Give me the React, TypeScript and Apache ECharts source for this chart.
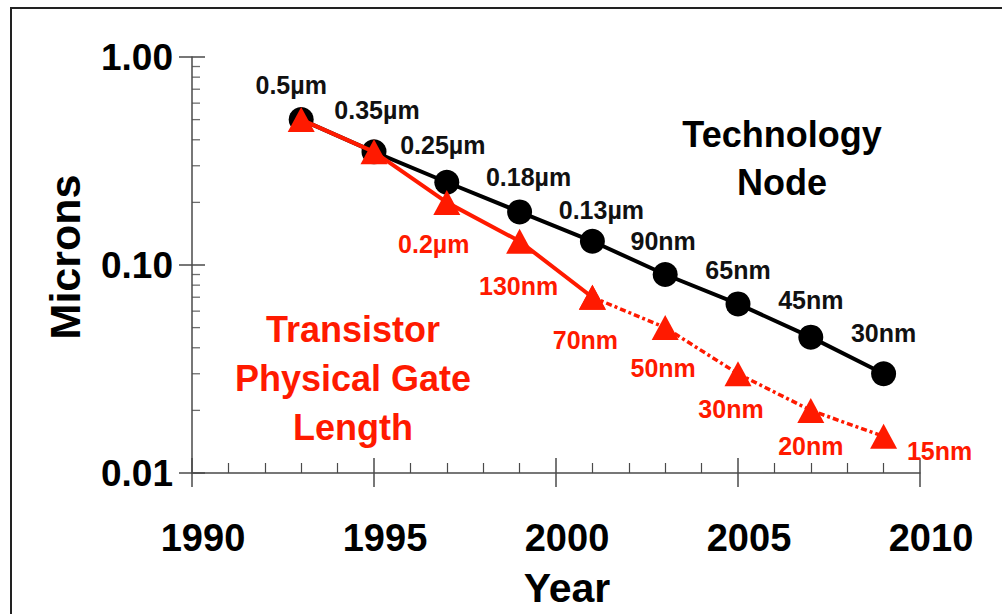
import React, { useEffect, useRef } from "react";
import * as echarts from "echarts";

const years = [1993, 1995, 1997, 1999, 2001, 2003, 2005, 2007, 2009];
const nodeValues = [0.5, 0.35, 0.25, 0.18, 0.13, 0.09, 0.065, 0.045, 0.03];
const nodeLabels = ["0.5µm", "0.35µm", "0.25µm", "0.18µm", "0.13µm", "90nm", "65nm", "45nm", "30nm"];
const gateValues = [0.5, 0.35, 0.2, 0.13, 0.07, 0.05, 0.03, 0.02, 0.015];
const gateLabels = ["", "", "0.2µm", "130nm", "70nm", "50nm", "30nm", "20nm", "15nm"];
const gateSolidLastIndex = 4; // 2001: solid up to here, dashed after
const xTickLabels = ["1990", "1995", "2000", "2005", "2010"];
const yTickLabels = ["0.01", "0.10", "1.00"];
const yMinorTicks = [0.02, 0.03, 0.04, 0.05, 0.06, 0.07, 0.08, 0.09, 0.2, 0.3, 0.4, 0.5, 0.6, 0.7, 0.8, 0.9];

// label placement (style only)
const nodeLabelOffsets = [[-10, -35], [3, -42], [-4, -37], [9, -35], [9, -31], [-2, -34], [0, -34], [0, -37], [0, -41]];
const gateLabelOffsets = [[0, 0], [0, 0], [-13, 42], [-1, 45], [-7, 43], [-2, 40], [-7, 35], [0, 36], [56, 15]];

const FONT = "'Liberation Sans', Arial, Helvetica, sans-serif";
const RED = "#ff1a00";
const AXIS = "#4a4a4a";

export default function App() {
  const ref = useRef<HTMLDivElement>(null);
  useEffect(() => {
    if (!ref.current) return;
    const chart = echarts.init(ref.current, undefined, { renderer: "svg" });
    const labelBase = { show: true, position: "inside", fontFamily: FONT, fontSize: 25, fontWeight: "bold" };
    const nodeData = years.map((y, i) => ({
      value: [y, nodeValues[i]],
      label: { ...labelBase, color: "#111", formatter: nodeLabels[i], offset: nodeLabelOffsets[i] },
    }));
    const gateItem = (i: number, showLabel: boolean) => ({
      value: [years[i], gateValues[i]],
      label: showLabel && gateLabels[i]
        ? { ...labelBase, color: RED, formatter: gateLabels[i], offset: gateLabelOffsets[i] }
        : { show: false },
    });
    const gateSolid = years.map((_, i) => i).filter((i) => i <= gateSolidLastIndex).map((i) => gateItem(i, true));
    const gateDashed = years.map((_, i) => i).filter((i) => i >= gateSolidLastIndex).map((i) => gateItem(i, i > gateSolidLastIndex));

    const option: any = {
      animation: false,
      backgroundColor: "#ffffff",
      textStyle: { fontFamily: FONT },
      grid: { left: 192, right: 82, top: 57, bottom: 141, containLabel: false },
      xAxis: [
        {
          type: "value",
          position: "bottom",
          min: 1990,
          max: 2010,
          interval: 5,
          splitLine: { show: false },
          axisLine: { show: true, lineStyle: { color: AXIS, width: 1.5 } },
          axisTick: { show: true, inside: true, length: 15, lineStyle: { color: AXIS, width: 1.5 } },
          minorTick: { show: true, splitNumber: 5, length: 10, lineStyle: { color: AXIS, width: 1.2 } },
          axisLabel: {
            show: true,
            margin: 46,
            padding: [0, 0, 0, 22],
            fontFamily: FONT,
            fontSize: 38,
            fontWeight: "bold",
            color: "#000",
            formatter: (v: number) => xTickLabels[Math.round((v - 1990) / 5)] ?? String(v),
          },
          name: "Year",
          nameLocation: "middle",
          nameGap: 94,
          nameTextStyle: { fontFamily: FONT, fontSize: 41, fontWeight: "bold", color: "#000", padding: [0, 0, 0, 22] },
        },
        {
          type: "value",
          position: "bottom",
          min: 1990,
          max: 2010,
          interval: 5,
          splitLine: { show: false },
          axisLine: { show: false },
          axisTick: { show: true, inside: false, length: 14, lineStyle: { color: AXIS, width: 1.5 } },
          axisLabel: { show: false },
        },
      ],
      yAxis: [
        {
          type: "log",
          logBase: 10,
          position: "left",
          min: 0.01,
          max: 1,
          splitLine: { show: false },
          axisLine: { show: true, lineStyle: { color: AXIS, width: 1.5 } },
          axisTick: { show: true, inside: true, length: 13, lineStyle: { color: AXIS, width: 1.5 } },
          axisLabel: {
            show: true,
            margin: 19,
            fontFamily: FONT,
            fontSize: 37,
            fontWeight: "bold",
            color: "#000",
            formatter: (v: number) => {
              const idx = Math.round(Math.log10(v)) + 2;
              return yTickLabels[idx] ?? v.toFixed(2);
            },
          },
          name: "Microns",
          nameLocation: "middle",
          nameGap: 106,
          nameTextStyle: { fontFamily: FONT, fontSize: 43, fontWeight: "bold", color: "#000", padding: [0, 0, 0, 16] },
        },
        {
          type: "log",
          logBase: 10,
          position: "left",
          min: 0.01,
          max: 1,
          splitLine: { show: false },
          axisLine: { show: false },
          axisTick: { show: true, inside: false, length: 13, lineStyle: { color: AXIS, width: 1.5 } },
          axisLabel: { show: false },
        },
      ],
      graphic: [
        {
          type: "rect",
          shape: { x: 11, y: 8, width: 1100, height: 700 },
          style: { fill: "none", stroke: "#222", lineWidth: 2 },
          silent: true,
        },
        {
          type: "text",
          x: 782,
          y: 110,
          style: {
            text: "Technology\nNode",
            fill: "#000",
            font: `bold 36px ${FONT}`,
            textAlign: "center",
            lineHeight: 48,
          },
        },
        {
          type: "text",
          x: 353,
          y: 305,
          style: {
            text: "Transistor\nPhysical Gate\nLength",
            fill: RED,
            font: `bold 36px ${FONT}`,
            textAlign: "center",
            lineHeight: 49,
          },
        },
      ],
      series: [
        {
          name: "yMinorTicks",
          type: "scatter",
          xAxisIndex: 0,
          yAxisIndex: 0,
          silent: true,
          symbol: "rect",
          symbolSize: [8, 1.3],
          symbolOffset: [4, 0],
          itemStyle: { color: AXIS },
          data: yMinorTicks.map((v) => [1990, v]),
          z: 1,
        },
        {
          name: "Technology Node",
          type: "line",
          xAxisIndex: 0,
          yAxisIndex: 0,
          symbol: "circle",
          symbolSize: 25,
          lineStyle: { color: "#000", width: 4 },
          itemStyle: { color: "#000" },
          data: nodeData,
          z: 3,
        },
        {
          name: "Transistor Physical Gate Length",
          type: "line",
          xAxisIndex: 0,
          yAxisIndex: 0,
          symbol: "triangle",
          symbolSize: [27, 25],
          lineStyle: { color: RED, width: 4 },
          itemStyle: { color: RED },
          data: gateSolid,
          z: 4,
        },
        {
          name: "Transistor Physical Gate Length (projected)",
          type: "line",
          xAxisIndex: 0,
          yAxisIndex: 0,
          symbol: "triangle",
          symbolSize: [27, 25],
          lineStyle: { color: RED, width: 3.5, type: [6, 3, 3, 3] },
          itemStyle: { color: RED },
          data: gateDashed,
          z: 4,
        },
      ],
    };
    chart.setOption(option);
    return () => chart.dispose();
  }, []);
  return (
    <div
      ref={ref}
      style={{ position: "absolute", left: 0, top: 0, width: 1002, height: 614, background: "#fff" }}
    />
  );
}
